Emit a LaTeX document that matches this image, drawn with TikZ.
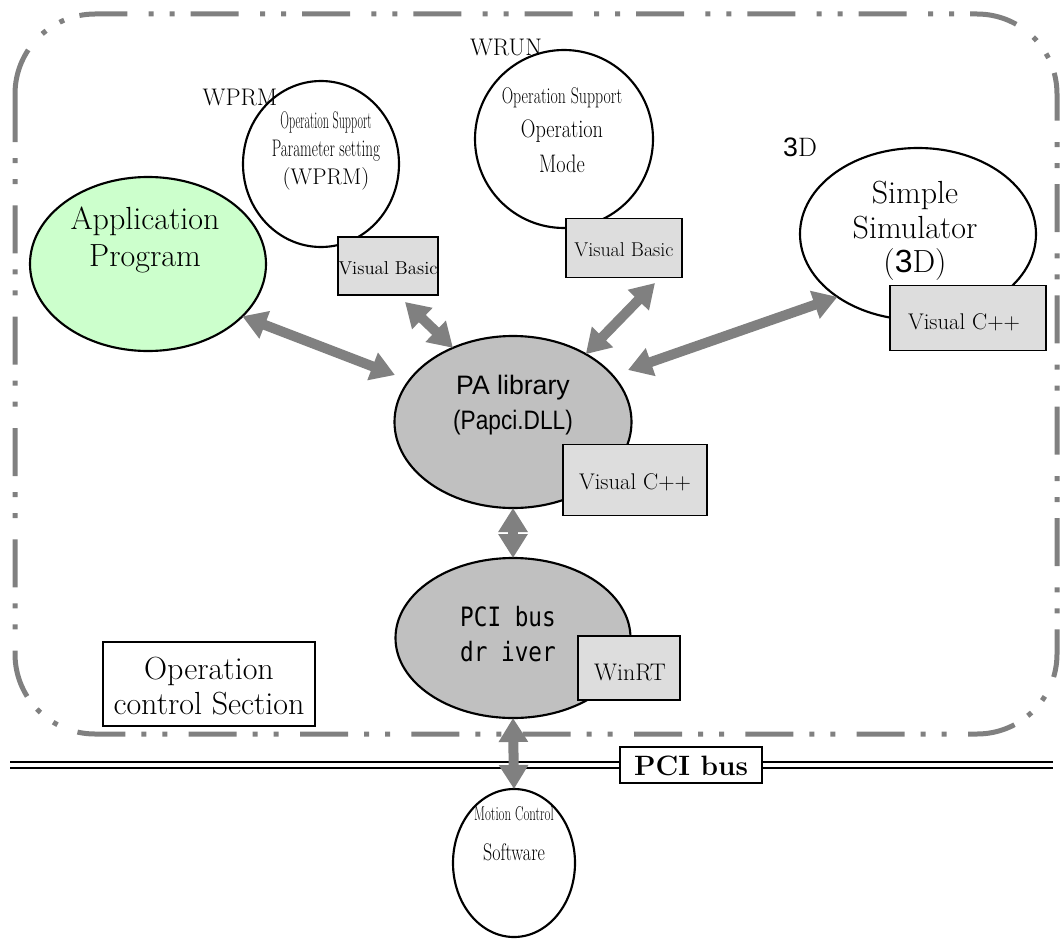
\documentclass[tikz,border=0pt]{standalone}
\usepackage{fontspec}
\usetikzlibrary{shapes.geometric,arrows.meta}
\newfontfamily\gothic{Liberation Sans}
\newfontfamily\gmono{DejaVu Sans Mono}
\definecolor{bordergray}{RGB}{128,128,128}
\definecolor{arrowgray}{RGB}{128,128,128}
\definecolor{appgreen}{RGB}{204,255,204}
\definecolor{libgray}{RGB}{192,192,192}
\definecolor{boxgray}{RGB}{221,221,221}
\newdimen\px \px=0.75pt
\newcommand{\fs}[1]{\fontsize{#1}{#1}\selectfont}
\newcommand{\cnd}[2]{\scalebox{#1}[1]{#2}}
\tikzset{
  every node/.style={inner sep=0pt, outer sep=0pt},
  ell/.style={ellipse, draw=black, line width=1.6pt, fill=white},
  vbox/.style={draw=black, line width=1pt, fill=boxgray, rectangle},
  wbox/.style={draw=black, line width=1pt, fill=white, rectangle},
  darr/.style={draw=arrowgray, line width=7.5pt,
    {Triangle[width=21pt,length=18pt]}-{Triangle[width=21pt,length=18pt]}},
  txt/.style={align=center, text=black},
}
\begin{document}
\begin{tikzpicture}[x=0.75pt,y=-0.75pt]
\useasboundingbox (0,0) rectangle (1063,942);
% outer dash-dot-dot frame
\draw[bordergray, line width=3.75pt, rounded corners=60pt,
  dash pattern=on 36pt off 12pt on 3.75pt off 12pt on 3.75pt off 16pt]
  (15,14) rectangle (1057,734);
% ellipses
\node[ell, fill=appgreen, minimum width=236\px, minimum height=174\px] (app) at (148,264) {};
\node[txt, font=\fs{24}] (appt) at (145,240) {Application\\[4pt]Program};

\node[ell, minimum width=156\px, minimum height=166\px] (wprm) at (321,164) {};
\node[txt] (wprmt) at (326,151) {\fs{18}\cnd{0.5}{Operation Support}\\[4pt]\fs{18}\cnd{0.63}{Parameter setting}\\[4pt]\fs{17}(WPRM)};
\node[font=\fs{18}] (wprml) at (240,97) {WPRM};
\node[vbox, minimum width=100\px, minimum height=58\px] (wprmb) at (388,266) {};
\node[font=\fs{14}] (wprmbt) at (388,268) {Visual Basic};

\node[ell, minimum width=178\px, minimum height=178\px] (wrun) at (564,139) {};
\node[txt] (wrunt) at (562,130) {\fs{17}\cnd{0.7}{Operation Support}\\[8pt]\fs{19}\cnd{0.8}{Operation}\\[8pt]\fs{19}\cnd{0.8}{Mode}};
\node[font=\fs{18}] (wrunl) at (506,47) {WRUN};
\node[vbox, minimum width=116\px, minimum height=59\px] (wrunb) at (624,248) {};
\node[font=\fs{15}] (wrunbt) at (624,250) {Visual Basic};

\node[ell, minimum width=236\px, minimum height=172\px] (sim) at (918,234) {};
\node[txt, font=\fs{24}] (simt) at (915,231) {Simple\\[2pt]Simulator\\[2pt]({\gothic 3}D)};
\node[font=\fs{20}] (siml) at (800,147) {{\gothic 3}D};
\node[vbox, minimum width=156\px, minimum height=65\px] (simb) at (968,318) {};
\node[font=\fs{17}] (simbt) at (964,322) {Visual C++};

\node[ell, fill=libgray, minimum width=237\px, minimum height=172\px] (pa) at (513,422) {};
\node[txt, font=\gothic\fs{20}] (pat) at (513,405) {PA library\\[6pt]\cnd{0.85}{(Papci.DLL)}};
\node[vbox, minimum width=144\px, minimum height=71\px] (pab) at (635,480) {};
\node[font=\fs{17}] (pabt) at (635,482) {Visual C++};

\node[ell, fill=libgray, minimum width=235\px, minimum height=160\px] (pci) at (513,638) {};
\node[txt, font=\gmono\fs{20}] (pcit) at (508,634) {\cnd{0.85}{PCI bus}\\[6pt]\cnd{0.85}{dr iver}};
\node[vbox, minimum width=102\px, minimum height=64\px] (pcib) at (629,668) {};
\node[font=\fs{18}] (pcibt) at (630,672) {WinRT};

\node[wbox, minimum width=212\px, minimum height=84\px] (ocs) at (209,684) {};
\node[txt, font=\fs{24}] (ocst) at (209,686) {Operation\\[2pt]control Section};

% PCI bus line
\draw[line width=1.6pt] (10,762) -- (1053,762);
\draw[line width=1.1pt] (10,768) -- (1053,768);
\node[wbox, minimum width=142\px, minimum height=36\px] (busb) at (691,765) {};
\node[font=\bfseries\fs{21}] (busbt) at (691,766) {PCI bus};

\node[ell, minimum width=122\px, minimum height=148\px] (mc) at (514,863) {};
\node[txt] (mct) at (514,834) {\fs{15}\cnd{0.64}{Motion Control}\\[16pt]\fs{18}\cnd{0.75}{Software}};

% arrows
\coordinate (a2s) at (405,302);
\coordinate (a3s) at (655,283);
\coordinate (a4e) at (628,370);
\coordinate (a1e) at (395,375);
\draw[darr] (app.-29) -- (a1e);
\draw[darr] (a2s) -- (pa.129);
\draw[darr] (a3s) -- (pa.43);
\draw[darr] (sim.218) -- (a4e);
\draw[darr] (pa.south) -- (pci.north);
\draw[darr] (pci.south) -- (mc.north);
\end{tikzpicture}
\end{document}
